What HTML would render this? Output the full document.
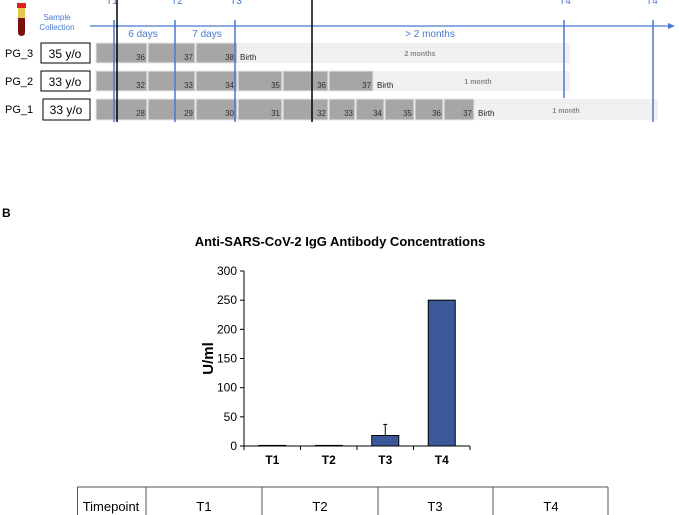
<!DOCTYPE html>
<html><head><meta charset="utf-8"><style>
body{margin:0;width:679px;height:515px;background:#fff;overflow:hidden;font-family:"Liberation Sans",Arial,sans-serif;position:relative}
.a{position:absolute}
</style></head><body>
<svg class="a" style="left:0;top:0" width="679" height="130" font-family="Liberation Sans, Arial, sans-serif">
<g>
<rect x="17" y="3" width="9" height="5" fill="#d22"/>
<rect x="18" y="8" width="7" height="10" fill="#e0c84a"/>
<rect x="18" y="18" width="7" height="14" fill="#7a1010"/>
<ellipse cx="21.5" cy="33" rx="3.5" ry="3" fill="#7a1010"/>
</g>
<text x="57" y="20" font-size="8" fill="#4a78d0" text-anchor="middle">Sample</text>
<text x="57" y="30" font-size="8" fill="#4a78d0" text-anchor="middle">Collection</text>
<line x1="90" y1="26" x2="670" y2="26" stroke="#4a78d0" stroke-width="1.3"/>
<polygon points="668,23 675,26 668,29" fill="#4a78d0"/>
<g font-size="10" fill="#4a78d0" text-anchor="middle">
<text x="112" y="4">T1</text><text x="177" y="4">T2</text><text x="236" y="4">T3</text><text x="565" y="4">T4</text><text x="652" y="4">T4</text>
<text x="143" y="37">6 days</text><text x="207" y="37">7 days</text><text x="430" y="37">&gt; 2 months</text>
</g>
<g font-size="11" fill="#000"><text x="5" y="57">PG_3</text><text x="5" y="85">PG_2</text><text x="5" y="113">PG_1</text></g>
<g stroke="#000" fill="#fff"><rect x="41" y="43" width="49" height="20"/><rect x="41" y="71" width="49" height="20"/><rect x="43" y="99" width="47" height="21"/></g>
<g font-size="12" text-anchor="middle"><text x="65" y="58">35 y/o</text><text x="65" y="86">33 y/o</text><text x="66" y="114">33 y/o</text></g>
<g fill="#f0f0f0"><rect x="96" y="43" width="474" height="20"/><rect x="96" y="71" width="474" height="20"/><rect x="96" y="99" width="562" height="21"/></g>
<g fill="#a6a6a6" stroke="#e8e8e8" stroke-width="1">
<rect x="96" y="43" width="51" height="20"/><rect x="148" y="43" width="47" height="20"/><rect x="196" y="43" width="41" height="20"/>
<rect x="96" y="71" width="51" height="20"/><rect x="148" y="71" width="47" height="20"/><rect x="196" y="71" width="41" height="20"/><rect x="238" y="71" width="44" height="20"/><rect x="283" y="71" width="45" height="20"/><rect x="329" y="71" width="44" height="20"/>
<rect x="96" y="99" width="51" height="21"/><rect x="148" y="99" width="47" height="21"/><rect x="196" y="99" width="41" height="21"/><rect x="238" y="99" width="44" height="21"/><rect x="283" y="99" width="45" height="21"/><rect x="329" y="99" width="26" height="21"/><rect x="356" y="99" width="28" height="21"/><rect x="385" y="99" width="29" height="21"/><rect x="415" y="99" width="28" height="21"/><rect x="444" y="99" width="30" height="21"/>
</g>
<g font-size="8" fill="#333" text-anchor="end">
<text x="145" y="60">36</text><text x="193" y="60">37</text><text x="234" y="60">38</text>
<text x="145" y="88">32</text><text x="193" y="88">33</text><text x="234" y="88">34</text><text x="280" y="88">35</text><text x="326" y="88">36</text><text x="371" y="88">37</text>
<text x="145" y="116">28</text><text x="193" y="116">29</text><text x="234" y="116">30</text><text x="280" y="116">31</text><text x="326" y="116">32</text><text x="353" y="116">33</text><text x="382" y="116">34</text><text x="412" y="116">35</text><text x="441" y="116">36</text><text x="472" y="116">37</text>
</g>
<g font-size="8" fill="#222"><text x="240" y="60">Birth</text><text x="377" y="88">Birth</text><text x="478" y="116">Birth</text></g>
<g font-size="7" fill="#888" font-weight="bold" text-anchor="middle"><text x="420" y="56">2 months</text><text x="478" y="84">1 month</text><text x="566" y="113">1 month</text></g>
<g stroke="#4a78d0" stroke-width="1.5"><line x1="114" y1="20" x2="114" y2="122"/><line x1="175" y1="20" x2="175" y2="122"/><line x1="235" y1="20" x2="235" y2="122"/><line x1="564" y1="20" x2="564" y2="98"/><line x1="653" y1="20" x2="653" y2="122"/></g>
<g stroke="#000" stroke-width="1.5"><line x1="117" y1="0" x2="117" y2="122"/><line x1="312" y1="0" x2="312" y2="122"/></g>
</svg>
<div class="a" style="left:2px;top:206px;font-weight:bold;font-size:12px">B</div>
<div class="a" style="left:160px;top:234px;width:360px;text-align:center;font-weight:bold;font-size:13px">Anti-SARS-CoV-2 IgG Antibody Concentrations</div>
<svg class="a" id="chart" style="left:0;top:250px" width="679" height="215" font-family="Liberation Sans, Arial, sans-serif"></svg>
<svg class="a" style="left:0;top:486px" width="679" height="29" font-family="Liberation Sans, Arial, sans-serif">
<g stroke="#555" fill="none"><line x1="77" y1="1" x2="608" y2="1"/><line x1="77.5" y1="1" x2="77.5" y2="29"/><line x1="146" y1="1" x2="146" y2="29"/><line x1="262" y1="1" x2="262" y2="29"/><line x1="378" y1="1" x2="378" y2="29"/><line x1="493" y1="1" x2="493" y2="29"/><line x1="608" y1="1" x2="608" y2="29"/></g>
<g font-size="13" text-anchor="middle"><text x="111" y="25">Timepoint</text><text x="204" y="25">T1</text><text x="320" y="25">T2</text><text x="435" y="25">T3</text><text x="551" y="25">T4</text></g>
</svg>
<script>
const categories=["T1","T2","T3","T4"];
const values=[1,1,18,250];
const errors=[0,0,19,0];
const yTicks=[0,50,100,150,200,250,300];
const svg=document.getElementById('chart');
const NS='http://www.w3.org/2000/svg';
const x0=244,x1=470,yTop=21,yBot=196,yMax=300;
const y=v=>yBot-(v/yMax)*(yBot-yTop);
const bw=(x1-x0)/categories.length;
const xc=i=>x0+bw*(i+0.5);
function mk(t,a){const e=document.createElementNS(NS,t);for(const k in a)e.setAttribute(k,a[k]);svg.appendChild(e);return e;}
let ax=mk('line',{x1:x0,y1:yTop,x2:x0,y2:yBot,stroke:'#000'});


let bx=mk('line',{x1:x0,y1:yBot,x2:x1,y2:yBot,stroke:'#000'});


yTicks.forEach(t=>{
 mk('line',{x1:x0-4,y1:y(t),x2:x0,y2:y(t),stroke:'#000'});
 const tx=mk('text',{x:x0-7,y:y(t)+4,'font-size':12,'text-anchor':'end'});tx.textContent=t;
 
 
});
for(let i=0;i<=categories.length;i++)mk('line',{x1:x0+bw*i,y1:yBot,x2:x0+bw*i,y2:yBot+4,stroke:'#000'});
categories.forEach((c,i)=>{
 const r=mk('rect',{x:xc(i)-13.5,y:y(values[i]),width:27,height:yBot-y(values[i]),fill:'#3b5998',stroke:'#000','stroke-width':1});
 
 
 if(errors[i]>0){
  mk('line',{x1:xc(i),y1:y(values[i]),x2:xc(i),y2:y(values[i]+errors[i]),stroke:'#000'});
  mk('line',{x1:xc(i)-2,y1:y(values[i]+errors[i]),x2:xc(i)+2,y2:y(values[i]+errors[i]),stroke:'#000'});
 }
 const t=mk('text',{x:xc(i),y:yBot+18,'font-size':12,'font-weight':'bold','text-anchor':'middle'});t.textContent=c;
 
 
});
const yl=mk('text',{x:0,y:0,'font-size':15,'font-weight':'bold','text-anchor':'middle',transform:'translate(213,'+((yTop+yBot)/2)+') rotate(-90)'});yl.textContent='U/ml';


</script>
</body></html>
